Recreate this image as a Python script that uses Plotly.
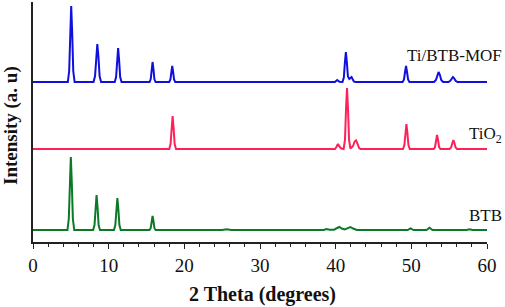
import plotly.graph_objects as go

# ---- data (2θ in degrees, intensity in a.u. above each baseline) ----
series_names = ["BTB", "TiO<sub>2</sub>", "Ti/BTB-MOF"]
offsets = [12, 93, 160]

btb_x = [0, 4.55, 4.73, 4.87, 5.0, 5.13, 5.27, 5.45,
         7.95, 8.13, 8.27, 8.4, 8.53, 8.67, 8.85,
         10.7, 10.88, 11.02, 11.15, 11.28, 11.42, 11.6,
         15.4, 15.56, 15.68, 15.8, 15.92, 16.04, 16.2,
         25.0, 25.6, 26.2,
         38.4, 38.8, 39.2, 39.8, 40.2, 40.5, 40.8, 41.2, 41.6, 41.95, 42.3, 42.8,
         49.5, 49.9, 50.3,
         52.0, 52.4, 52.8,
         57.3, 57.7, 58.1, 60]
btb_y = [0, 0, 11, 47, 73, 47, 11, 0,
         0, 5, 23, 35, 23, 5, 0,
         0, 5, 21, 32, 21, 5, 0,
         0, 2, 9, 14, 9, 2, 0,
         0, 0.8, 0,
         0, 1, 0.2, 0.3, 2, 3, 1.5, 0.5, 1.8, 3, 1.5, 0,
         0, 1.7, 0,
         0, 2.3, 0,
         0, 0.8, 0, 0]

tio2_x = [0, 18.0, 18.18, 18.32, 18.45, 18.58, 18.72, 18.9,
          39.9, 40.1, 40.3, 40.55, 40.75,
          41.05, 41.23, 41.37, 41.5, 41.63, 41.77, 41.95, 42.3, 42.5, 42.7, 42.9, 43.1, 43.3,
          48.9, 49.08, 49.22, 49.35, 49.48, 49.62, 49.8,
          52.95, 53.13, 53.27, 53.4, 53.53, 53.67, 53.85,
          55.05, 55.25, 55.4, 55.55, 55.7, 55.85, 56.05, 60]
tio2_y = [0, 0, 5, 21, 33, 21, 5, 0,
          0, 2, 5, 2, 0.5,
          0, 9, 40, 61, 40, 9, 0.5, 3, 7.5, 8.7, 5, 1, 0,
          0, 4, 16, 25, 16, 4, 0,
          0, 2, 9, 14, 9, 2, 0,
          0, 1.5, 6, 9, 6, 1.5, 0, 0]

mof_x = [0, 4.6, 4.78, 4.92, 5.05, 5.18, 5.32, 5.5,
         8.0, 8.2, 8.35, 8.5, 8.65, 8.8, 9.0,
         10.8, 10.98, 11.12, 11.25, 11.38, 11.52, 11.7,
         15.4, 15.56, 15.68, 15.8, 15.92, 16.04, 16.2,
         18.0, 18.16, 18.28, 18.4, 18.52, 18.64, 18.8,
         39.9, 40.2, 40.5,
         40.9, 41.08, 41.22, 41.35, 41.48, 41.62, 41.8, 42.1, 42.4, 42.6,
         48.85, 49.03, 49.17, 49.3, 49.43, 49.57, 49.75,
         53.0, 53.25, 53.42, 53.6, 53.78, 53.95, 54.2,
         54.9, 55.15, 55.32, 55.5, 55.68, 55.85, 56.1, 60]
mof_y = [0, 0, 11, 49, 76, 49, 11, 0,
         0, 6, 25, 38, 25, 6, 0,
         0, 5, 22, 34, 22, 5, 0,
         0, 3, 13, 20, 13, 3, 0,
         0, 2.5, 10, 16, 10, 2.5, 0,
         0, 2, 0.3,
         0, 4.5, 19.5, 30, 19.5, 5.5, 3, 5, 0.5, 0,
         0, 2.5, 10, 16, 10, 2.5, 0,
         0, 2, 7, 10, 7, 2, 0,
         0, 1.2, 3.5, 5, 3.5, 1.2, 0, 0]

x_ticks = [0, 10, 20, 30, 40, 50, 60]

colors = ["#0b7a26", "#ff2058", "#0f0fde"]
label_y = [215, 135, 55]   # pixel rows of labels in reference (converted below)

xs = [btb_x, tio2_x, mof_x]
ys = [btb_y, tio2_y, mof_y]

fig = go.Figure()
for name, x, y, off, c in zip(series_names, xs, ys, offsets, colors):
    fig.add_trace(go.Scatter(x=x, y=[v + off for v in y], mode="lines",
                             line=dict(color=c, width=2), name=name,
                             showlegend=False))

FONT = "Liberation Serif, Times New Roman, serif"

# series labels (right side, partly outside plot area)
for name, py, sz in zip(series_names, label_y, [17, 17, 17]):
    fig.add_annotation(text=name, xref="paper", yref="paper",
                       x=(504 - 33) / 454, y=(242 - py) / 240,
                       xanchor="right", yanchor="middle", showarrow=False,
                       font=dict(family=FONT, size=sz, color="#111"))

# axis titles
fig.add_annotation(text="<b>2 Theta (degrees)</b>", xref="paper", yref="paper",
                   x=(262 - 33) / 454, y=(242 - 294) / 240, xanchor="center", yanchor="middle",
                   showarrow=False, font=dict(family=FONT, size=20, color="#111"))
fig.add_annotation(text="<b>Intensity (a. u)</b>", xref="paper", yref="paper",
                   x=(11 - 33) / 454, y=(242 - 126) / 240, xanchor="center", yanchor="middle",
                   textangle=-90, showarrow=False,
                   font=dict(family=FONT, size=19, color="#111"))

fig.update_layout(
    width=505, height=307,
    margin=dict(l=33, r=18, t=2, b=65),
    paper_bgcolor="white", plot_bgcolor="white",
    xaxis=dict(range=[0, 60], tickvals=x_ticks, ticks="outside", ticklen=5,
               tickwidth=1.2, tickcolor="#222", showline=True, linecolor="#222",
               linewidth=1.5, showgrid=False, zeroline=False,
               tickfont=dict(family=FONT, size=19, color="#111"),
               minor=dict(dtick=2, ticks="outside", ticklen=3, tickwidth=1,
                          tickcolor="#222", showgrid=False)),
    yaxis=dict(range=[0, 240], showline=True, linecolor="#222", linewidth=1.5,
               showticklabels=False, ticks="", showgrid=False, zeroline=False),
)

fig.write_html("out.html", config={"displayModeBar": False})

# remove default page margin so the 505x307 figure fills the window exactly
with open("out.html", "r", encoding="utf-8") as f:
    html = f.read()
html = html.replace("<head>", "<head><style>html,body{margin:0;padding:0;overflow:hidden;}</style>", 1)
with open("out.html", "w", encoding="utf-8") as f:
    f.write(html)
